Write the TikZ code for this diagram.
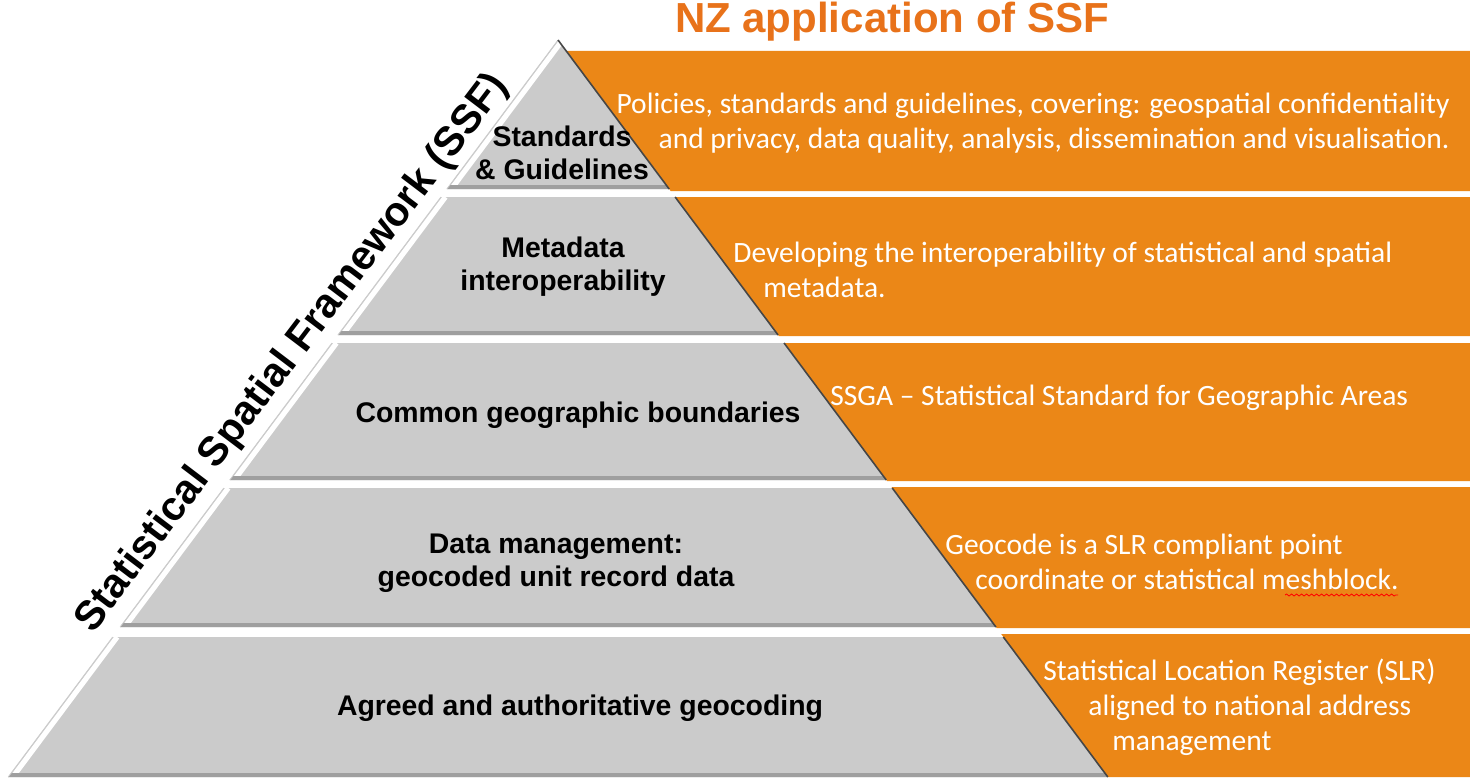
\documentclass[tikz,border=0pt]{standalone}
\usepackage{fontspec}
\setmainfont{Liberation Sans}
\newfontfamily\calibri{Carlito}
\usetikzlibrary{decorations.pathmorphing}
\definecolor{ssforange}{RGB}{235,135,23}
\definecolor{ssftitle}{RGB}{232,114,26}
\definecolor{ssfgrey}{RGB}{203,203,203}
\tikzset{
	tier/.style={fill=ssfgrey},
	band/.style={fill=ssforange},
	tierlabel/.style={font=\bfseries\fontsize{14.2}{16.5}\selectfont, align=center, inner sep=0pt},
	bandlabel/.style={font=\calibri\fontsize{14.75}{17.5}\selectfont, text=white, inner sep=0pt}
}
\begin{document}
\begin{tikzpicture}[x=0.5pt,y=-0.5pt]
	\useasboundingbox (0,0) rectangle (1470,781);
	% orange bands
	\foreach \ya/\yb in {51/191, 197/336, 343/481, 487/628, 634/777}
		\fill[band] ({558+0.746*(\ya-40)},\ya) -- (1470,\ya) -- (1470,\yb) -- ({558+0.746*(\yb-40)},\yb) -- cycle;
	% grey tiers
	\foreach \ya/\yb in {40/189, 197/335, 343/480, 488/627, 637/777} {
		\fill[tier] ({558-0.746*(\ya-40)},\ya) -- ({558+0.746*(\ya-40)},\ya) -- ({558+0.746*(\yb-40)},\yb) -- ({558-0.746*(\yb-40)},\yb) -- cycle;
		\begin{scope}
			\clip ({558-0.746*(\ya-40)},\ya) -- ({558+0.746*(\ya-40)},\ya) -- ({558+0.746*(\yb-40)},\yb) -- ({558-0.746*(\yb-40)},\yb) -- cycle;
			\draw[white, line width=2.6pt] ({562.5-0.746*(\ya-40)},\ya) -- ({562.5-0.746*(\yb-40)},\yb);
			\fill[gray!75] ({558-0.746*(\yb-44)},\yb-4) -- ({558+0.746*(\yb-44)},\yb-4) -- ({558+0.746*(\yb-40)},\yb) -- ({558-0.746*(\yb-40)},\yb) -- cycle;
		\end{scope}
		\draw[gray!40, line width=0.4pt] ({558-0.746*(\ya-40)},\ya) -- ({558-0.746*(\yb-40)},\yb);
		\draw[gray!55!black, line width=0.8pt] ({558+0.746*(\ya-40)},\ya) -- ({558+0.746*(\yb-40)},\yb);
	}
	% titles
	\node[font=\bfseries\fontsize{21}{21}\selectfont, text=ssftitle] (title) at (892,22) {NZ application of SSF};
	\node[rotate=52.8, anchor=base, font=\bfseries\fontsize{20.5}{20.5}\selectfont] (ssf) at (301,360) {Statistical Spatial Framework (SSF)};
	% pyramid labels
	\node[tierlabel] (std) at (562,153) {Standards\\\& Guidelines};
	\node[tierlabel] (meta) at (563,267) {Metadata\\interoperability};
	\node[tierlabel] (bound) at (578,415) {Common geographic boundaries};
	\node[tierlabel] (data) at (556,563) {Data management:\\geocoded unit record data};
	\node[tierlabel] (geo) at (580,708) {Agreed and authoritative geocoding};
	% NZ labels
	\node[bandlabel, align=right, anchor=east] (policy) at (1450,123) {Policies, standards and guidelines, covering: geospatial confidentiality\\and privacy, data quality, analysis, dissemination and visualisation.};
	\node[bandlabel, align=left, anchor=west] (interop) at (733,270) {Developing the interoperability of statistical and spatial\\\hspace*{15pt}metadata.};
	\node[bandlabel, anchor=west] (ssga) at (830,398) {SSGA – Statistical Standard for Geographic Areas};
	\node[bandlabel, align=left, anchor=west] (geocode) at (945,562) {Geocode is a SLR compliant point\\\hspace*{15pt}coordinate or statistical meshblock.};
	\node[bandlabel, align=left, anchor=west] (slr) at (1043,707) {Statistical Location Register (SLR)\\\hspace*{22.5pt}aligned to national address\\\hspace*{34.5pt}management};
	\draw[red, decorate, decoration={snake, amplitude=0.5pt, segment length=2.5pt}] (1285,595) -- (1398,595);
\end{tikzpicture}
\end{document}
